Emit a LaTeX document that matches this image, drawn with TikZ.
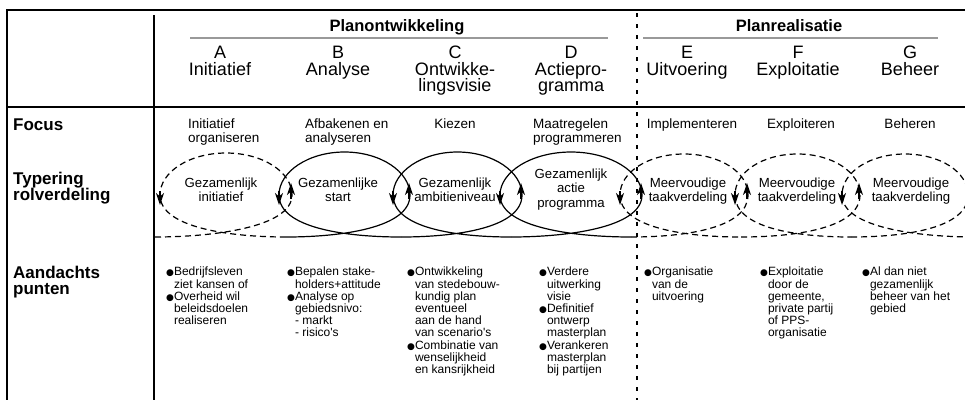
\documentclass[tikz,border=0pt]{standalone}
\usepackage{fontspec}
\setmainfont{Liberation Sans}[Ligatures=TeXOff]
\newfontfamily\djv{DejaVu Sans}
\usetikzlibrary{arrows.meta}
\newcommand\bulpt{{\djv\fontsize{9}{9}\selectfont ●}}
\newcommand\bulin{\hphantom{\bulpt}}
\begin{document}
\begin{tikzpicture}[x=1pt,y=-1pt,
  rule/.style={line width=2pt},
  grayrule/.style={line width=1.5pt, black!40},
  phase/.style={line width=1.2pt, dash pattern=on 4pt off 7pt},
  coil/.style={line width=1.2pt},
  coildash/.style={coil, dash pattern=on 6pt off 4pt},
  arr/.style={-{Stealth[length=12pt,width=8pt,inset=3.5pt]}, line width=1.2pt},
  hdr/.style={font=\bfseries\fontsize{16.5}{16}\selectfont, inner sep=0, anchor=north},
  colhdr/.style={font=\fontsize{18}{16.5}\selectfont, align=center, inner sep=0, anchor=north},
  rowlbl/.style={font=\bfseries\fontsize{17}{16}\selectfont, align=left, inner sep=0, anchor=north west},
  focusl/.style={font=\fontsize{13.5}{14}\selectfont, align=left, inner sep=0, anchor=north west},
  focusc/.style={font=\fontsize{13.5}{14}\selectfont, inner sep=0, anchor=north},
  looptxt/.style={font=\fontsize{13.2}{14.2}\selectfont, align=center, inner sep=0, anchor=north},
  pts/.style={font=\fontsize{12}{12.2}\selectfont, align=left, inner sep=0, anchor=north west}
]
\path[fill=white] (0,0) rectangle (965,400);
\useasboundingbox (0,0) rectangle (965,400);
% table rules
\draw[rule] (965,10) -- (7,10) -- (7,400);
\draw[rule] (154,15) -- (154,400);
\draw[rule] (7,107) -- (965,107);
\draw[grayrule] (190,38) -- (608,38);
\draw[grayrule] (643,38) -- (938,38);
\draw[phase] (637,13) -- (637,400);

% group headers
\node[hdr] (plano) at (397,19) {Planontwikkeling};
\node[hdr] (planr) at (789,19) {Planrealisatie};

% column headers
\node[colhdr] (hA) at (220,46) {A\\Initiatief};
\node[colhdr] (hB) at (338,46) {B\\Analyse};
\node[colhdr] (hC) at (455,46) {C\\Ontwikke-\\lingsvisie};
\node[colhdr] (hD) at (571,46) {D\\Actiepro-\\gramma};
\node[colhdr] (hE) at (687,46) {E\\Uitvoering};
\node[colhdr] (hF) at (798,46) {F\\Exploitatie};
\node[colhdr] (hG) at (910,46) {G\\Beheer};

% row labels
\node[rowlbl] (rFocus) at (13,119) {Focus};
\node[rowlbl] (rTyp) at (13,172) {Typering\\rolverdeling};
\node[rowlbl] (rAand) at (13,266) {Aandachts\\punten};

% focus row
\node[focusl] (fA) at (188,119) {Initiatief\\organiseren};
\node[focusl] (fB) at (305,119) {Afbakenen en\\analyseren};
\node[focusc] (fC) at (455,119) {Kiezen};
\node[focusl] (fD) at (533,119) {Maatregelen\\programmeren};
\node[focusc] (fE) at (692,119) {Implementeren};
\node[focusc] (fF) at (801,119) {Exploiteren};
\node[focusc] (fG) at (910,119) {Beheren};

% coil of role loops
\begin{scope}
\clip (0,0) rectangle (965,400);
\draw[coildash] (155,237) .. controls (210,237) and (292,228) .. (292,195) .. controls (292,171.8) and (262.4,153) .. (226,153) .. controls (189.6,153) and (160,171.8) .. (160,195) .. controls (160,228) and (231,237) .. (286,237);
\draw[coil] (286,237) .. controls (341,237) and (410,228) .. (410,195) .. controls (410,171.8) and (380.7,152) .. (344.5,152) .. controls (308.3,152) and (279,171.8) .. (279,195) .. controls (279,228) and (346,237) .. (401,237);
\draw[coil] (401,237) .. controls (456,237) and (522,228) .. (522,195) .. controls (522,171.8) and (493.1,152) .. (457.5,152) .. controls (421.9,152) and (393,171.8) .. (393,195) .. controls (393,228) and (456,237) .. (511,237);
\draw[coil] (511,237) .. controls (566,237) and (642,228) .. (642,195) .. controls (642,171.8) and (610.2,152) .. (571,152) .. controls (531.8,152) and (500,171.8) .. (500,195) .. controls (500,228) and (576,237) .. (631,237);
\draw[coildash] (631,237) .. controls (686,237) and (748,228) .. (748,195) .. controls (748,171.8) and (719.3,154) .. (684,154) .. controls (648.7,154) and (620,171.8) .. (620,195) .. controls (620,228) and (686,237) .. (741,237);
\draw[coildash] (741,237) .. controls (796,237) and (860,228) .. (860,195) .. controls (860,171.8) and (832,154) .. (797.5,154) .. controls (763,154) and (735,171.8) .. (735,195) .. controls (735,228) and (796,237) .. (851,237);
\draw[coildash] (851,237) .. controls (906,237) and (968,228) .. (968,195) .. controls (968,171.8) and (939.8,154) .. (905,154) .. controls (870.2,154) and (842,171.8) .. (842,195) .. controls (842,228) and (920,237) .. (975,237);
\end{scope}

% arrowheads: down on the left sides, up on the right sides
\foreach \xl in {160,279,393,500,620,735,842}
  \draw[arr] (\xl,191) -- (\xl,205);
\foreach \xr in {291,409,521,641,747,859}
  \draw[arr] (\xr,199) -- (\xr,183);

% loop texts
\node[looptxt] (lA) at (221,178) {Gezamenlijk\\initiatief};
\node[looptxt] (lB) at (338,178) {Gezamenlijke\\start};
\node[looptxt] (lC) at (455,178) {Gezamenlijk\\ambitieniveau};
\node[looptxt] (lD) at (571,169) {Gezamenlijk\\actie\\programma};
\node[looptxt] (lE) at (688,178) {Meervoudige\\taakverdeling};
\node[looptxt] (lF) at (797,178) {Meervoudige\\taakverdeling};
\node[looptxt] (lG) at (911,178) {Meervoudige\\taakverdeling};

% aandachtspunten
\node[pts] (pA) at (166,267) {\bulpt Bedrijfsleven\\\bulin ziet kansen of\\\bulpt Overheid wil\\\bulin beleidsdoelen\\\bulin realiseren};
\node[pts] (pB) at (287,267) {\bulpt Bepalen stake-\\\bulin holders+attitude\\\bulpt Analyse op\\\bulin gebiedsnivo:\\\bulin - markt\\\bulin - risico's};
\node[pts] (pC) at (407,267) {\bulpt Ontwikkeling\\\bulin van stedebouw-\\\bulin kundig plan\\\bulin eventueel\\\bulin aan de hand\\\bulin van scenario's\\\bulpt Combinatie van\\\bulin wenselijkheid\\\bulin en kansrijkheid};
\node[pts] (pD) at (539,267) {\bulpt Verdere\\\bulin uitwerking\\\bulin visie\\\bulpt Definitief\\\bulin ontwerp\\\bulin masterplan\\\bulpt Verankeren\\\bulin masterplan\\\bulin bij partijen};
\node[pts] (pE) at (644,267) {\bulpt Organisatie\\\bulin van de\\\bulin uitvoering};
\node[pts] (pF) at (760,267) {\bulpt Exploitatie\\\bulin door de\\\bulin gemeente,\\\bulin private partij\\\bulin of PPS-\\\bulin organisatie};
\node[pts] (pG) at (862,267) {\bulpt Al dan niet\\\bulin gezamenlijk\\\bulin beheer van het\\\bulin gebied};
\end{tikzpicture}
\end{document}
